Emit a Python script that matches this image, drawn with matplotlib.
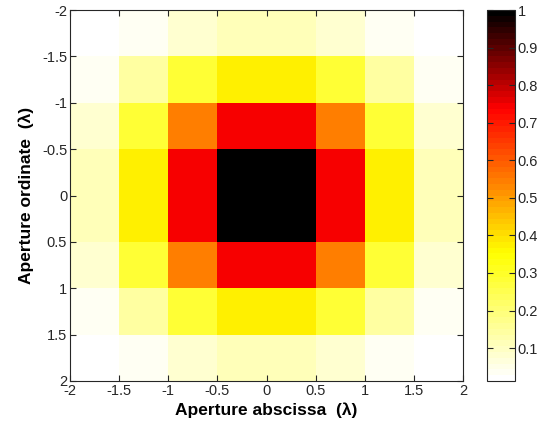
import numpy as np
import matplotlib
matplotlib.use("Agg")
import matplotlib.pyplot as plt
from matplotlib.colors import LinearSegmentedColormap, ListedColormap

plt.rcParams['font.family'] = ['Liberation Sans', 'DejaVu Sans']

x_edges = [-2, -1.5, -1, -0.5, 0, 0.5, 1, 1.5, 2]
y_edges = [-2, -1.5, -1, -0.5, 0, 0.5, 1, 1.5, 2]
tick_vals = [-2, -1.5, -1, -0.5, 0, 0.5, 1, 1.5, 2]
tick_labels = ['-2', '-1.5', '-1', '-0.5', '0', '0.5', '1', '1.5', '2']
cbar_ticks = [0.1, 0.2, 0.3, 0.4, 0.5, 0.6, 0.7, 0.8, 0.9, 1]
cbar_labels = ['0.1', '0.2', '0.3', '0.4', '0.5', '0.6', '0.7', '0.8', '0.9', '1']

intensity = [
    [0.010, 0.035, 0.080, 0.115, 0.115, 0.080, 0.035, 0.010],
    [0.035, 0.150, 0.280, 0.370, 0.370, 0.280, 0.150, 0.035],
    [0.080, 0.280, 0.550, 0.740, 0.740, 0.550, 0.280, 0.080],
    [0.115, 0.370, 0.740, 1.000, 1.000, 0.740, 0.370, 0.115],
    [0.115, 0.370, 0.740, 1.000, 1.000, 0.740, 0.370, 0.115],
    [0.080, 0.280, 0.550, 0.740, 0.740, 0.550, 0.280, 0.080],
    [0.035, 0.150, 0.280, 0.370, 0.370, 0.280, 0.150, 0.035],
    [0.010, 0.035, 0.080, 0.115, 0.115, 0.080, 0.035, 0.010],
]

vmin, vmax = 0.0125, 1.0
def frac(v):
    return (v - vmin) / (vmax - vmin)

base = LinearSegmentedColormap.from_list(
    'whot',
    [(0.0, (1, 1, 1)), (frac(0.35), (1, 1, 0)), (frac(0.74), (1, 0, 0)), (1.0, (0, 0, 0))])
cmap = ListedColormap(base(np.linspace(0, 1, 64)))

fig = plt.figure(figsize=(5.51, 4.25), dpi=100)
W, H = 551, 425
ax = fig.add_axes([70 / W, 1 - 381 / H, (463 - 70) / W, (381 - 10) / H])
cax = fig.add_axes([487 / W, 1 - 381 / H, (515 - 487) / W, (381 - 10) / H])

mesh = ax.pcolormesh(x_edges, y_edges, np.array(intensity), cmap=cmap, vmin=vmin, vmax=vmax)
ax.set_xlim(-2, 2)
ax.set_ylim(2, -2)
ax.set_xticks(tick_vals)
ax.set_xticklabels(tick_labels)
ax.set_yticks(tick_vals)
ax.set_yticklabels(tick_labels)
ax.tick_params(direction='in', top=True, right=True, length=4, width=0.8,
               labelsize=10.5, colors='#262626', pad=2)
for s in ax.spines.values():
    s.set_color('#262626')
    s.set_linewidth(0.8)
ax.set_xlabel('Aperture abscissa  (λ)', fontsize=12.5, fontweight='bold', labelpad=3)
ax.set_ylabel('Aperture ordinate  (λ)', fontsize=12.5, fontweight='bold', labelpad=6)

cb = fig.colorbar(mesh, cax=cax)
cb.set_ticks(cbar_ticks)
cb.set_ticklabels(cbar_labels)
cax.tick_params(direction='in', left=True, right=True, length=4, width=0.8,
                labelsize=10.5, colors='#262626', pad=2)
cb.outline.set_edgecolor('#262626')
cb.outline.set_linewidth(0.8)

fig.savefig('out.png', dpi=100)
